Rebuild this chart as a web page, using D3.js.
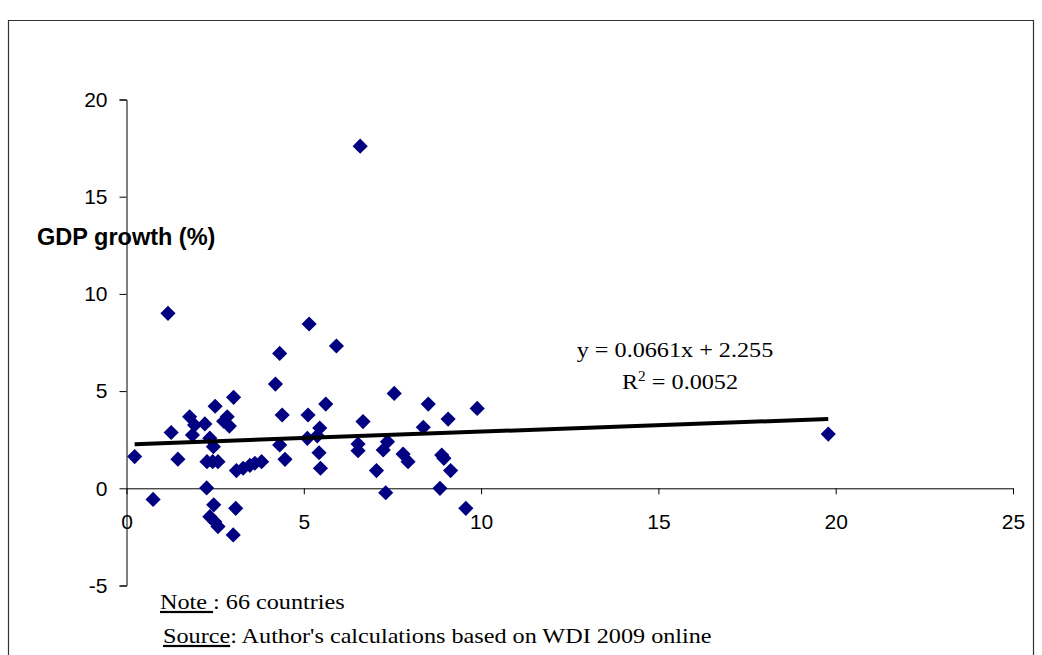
<!DOCTYPE html>
<html>
<head>
<meta charset="utf-8">
<script src="https://cdn.jsdelivr.net/npm/d3@7"></script>
<style>
  body { margin: 0; background: #fff; }
  svg { display: block; }
</style>
</head>
<body>
<div id="chart"></div>
<script>
// inflation (x) vs GDP growth (y)
const inflation = [1.17, 4.32, 4.20, 3.02, 2.50, 4.39, 5.12, 1.78, 1.92, 1.86,
  2.21, 1.26, 2.74, 2.84, 2.90, 2.35, 2.45, 0.23, 1.45, 2.27,
  2.43, 2.58, 3.10, 3.29, 3.48, 3.62, 3.81, 4.32, 4.47, 5.10,
  2.26, 0.75, 2.46, 3.08, 2.35, 2.49, 2.58, 3.01, 5.15, 5.92,
  7.55, 5.62, 8.51, 9.89, 6.67, 9.07, 5.45, 5.38, 8.37, 7.36,
  6.53, 6.53, 7.24, 5.43, 7.80, 7.94, 8.89, 8.95, 5.47, 7.05,
  9.14, 7.31, 8.84, 9.57, 6.59, 19.79];
const growth = [9.0, 6.94, 5.36, 4.68, 4.22, 3.77, 3.77, 3.68, 3.25, 2.74,
  3.31, 2.87, 3.45, 3.68, 3.20, 2.58, 2.14, 1.63, 1.50, 1.37,
  1.37, 1.37, 0.91, 1.03, 1.18, 1.29, 1.37, 2.23, 1.49, 2.57,
  0.02, -0.57, -0.85, -1.03, -1.46, -1.72, -1.97, -2.40, 8.45, 7.32,
  4.88, 4.33, 4.33, 4.11, 3.43, 3.56, 3.10, 2.70, 3.14, 2.40,
  2.28, 1.93, 1.97, 1.83, 1.76, 1.37, 1.71, 1.54, 1.03, 0.91,
  0.91, -0.23, 0.0, -1.03, 17.6, 2.79];

const xTicks = [0, 5, 10, 15, 20, 25];
const yTicks = [-5, 0, 5, 10, 15, 20];
const slope = 0.0661, intercept = 2.255;

const width = 1042, height = 655;
const sans = "'Liberation Sans', Arial, sans-serif";
const serif = "'Liberation Serif', 'Times New Roman', serif";

const svg = d3.select("#chart").append("svg")
  .attr("width", width)
  .attr("height", height);

// outer frame (bottom edge is cut off in the original)
svg.append("path")
  .attr("d", "M8.5," + height + "V20.5H1033.5V" + height)
  .attr("fill", "none")
  .attr("stroke", "#333")
  .attr("stroke-width", 1.2);

const x = d3.scaleLinear().domain([0, 25]).range([126.5, 1013]);
const y = d3.scaleLinear().domain([-5, 20]).range([585.5, 99.5]);

// y axis
const yAxis = svg.append("g")
  .attr("transform", "translate(" + x(0) + ",0)")
  .call(d3.axisLeft(y).tickValues(yTicks).tickFormat(d => String(d))
    .tickSize(7).tickPadding(12));
yAxis.select(".domain").attr("stroke", "#000");
yAxis.selectAll(".tick line").attr("stroke", "#000");
yAxis.selectAll("text")
  .style("font-family", sans)
  .style("font-size", "21px")
  .attr("fill", "#000");

// x axis sits at y = 0
const xAxis = svg.append("g")
  .attr("transform", "translate(0," + y(0) + ")")
  .call(d3.axisBottom(x).tickValues(xTicks).tickSize(6).tickSizeOuter(0).tickPadding(20));
xAxis.select(".domain").attr("stroke", "#000");
xAxis.selectAll(".tick line").attr("stroke", "#000");
xAxis.selectAll("text")
  .style("font-family", sans)
  .style("font-size", "21px")
  .attr("fill", "#000");

// points
const diamond = d3.symbol().type(d3.symbolSquare).size(115);
svg.append("g")
  .selectAll("path")
  .data(inflation.map((v, i) => [v, growth[i]]))
  .join("path")
  .attr("d", diamond)
  .attr("transform", d => "translate(" + x(d[0]) + "," + y(d[1]) + ") rotate(45)")
  .attr("fill", "#000080");

// linear trend line over the data range
const xMin = d3.min(inflation), xMax = d3.max(inflation);
svg.append("line")
  .attr("x1", x(xMin)).attr("y1", y(slope * xMin + intercept))
  .attr("x2", x(xMax)).attr("y2", y(slope * xMax + intercept))
  .attr("stroke", "#000")
  .attr("stroke-width", 4);

// the original text is a little stretched sideways
function label(px, py) {
  return svg.append("text")
    .attr("transform", "translate(" + px + "," + py + ") scale(1.1,1)")
    .style("font-family", serif).style("font-size", "22px");
}

// equation
label(675, 357).attr("text-anchor", "middle").text("y = 0.0661x + 2.255");
const r2 = label(680, 389).attr("text-anchor", "middle");
r2.append("tspan").text("R");
r2.append("tspan").attr("dy", -8).style("font-size", "14px").text("2");
r2.append("tspan").attr("dy", 8).text(" = 0.0052");

// y axis title
svg.append("text")
  .attr("x", 37).attr("y", 245)
  .style("font-family", sans)
  .style("font-size", "23.5px")
  .style("font-weight", "bold")
  .text("GDP growth (%)");

// notes, with heavier underlines like the original
const note = label(160, 609);
note.append("tspan").style("text-decoration", "underline")
  .style("text-decoration-thickness", "2px").text("Note ");
note.append("tspan").text(": 66 countries");

const src = label(163, 643);
src.append("tspan").style("text-decoration", "underline")
  .style("text-decoration-thickness", "2px").text("Source");
src.append("tspan").text(": Author's calculations based on WDI 2009 online");
</script>
</body>
</html>
